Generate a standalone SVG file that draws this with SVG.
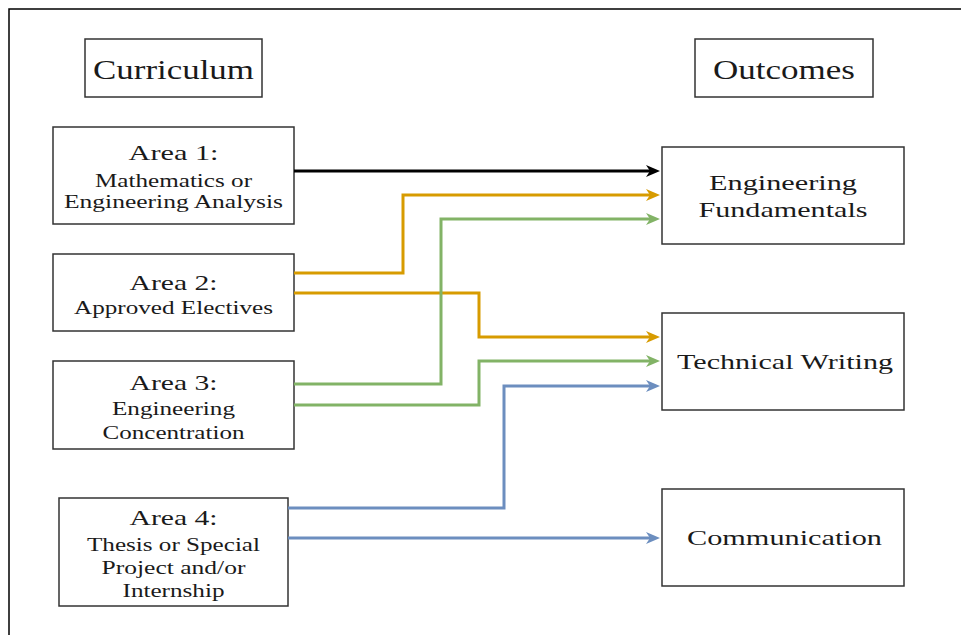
<svg xmlns="http://www.w3.org/2000/svg" width="961" height="635" viewBox="0 0 961 635">
<style>
  .box { fill: #ffffff; stroke: #333333; stroke-width: 1.5; }
  .t { font-family: "Liberation Serif", "Times New Roman", serif; fill: #1a1a1a; text-anchor: middle; }
  .title { font-size: 28px; }
  .head { font-size: 22px; }
  .sub { font-size: 18px; }
  .out { font-size: 22px; }
  .c { fill: none; stroke-width: 3; stroke-linejoin: miter; }
</style>
<defs>
  <marker id="aBlack" markerUnits="userSpaceOnUse" markerWidth="16" markerHeight="14" refX="8" refY="6" orient="auto"><path d="M0,0 L14,6 L0,12 L4,6 Z" fill="#000000"/></marker>
  <marker id="aOrange" markerUnits="userSpaceOnUse" markerWidth="16" markerHeight="14" refX="8" refY="6" orient="auto"><path d="M0,0 L14,6 L0,12 L4,6 Z" fill="#d79b00"/></marker>
  <marker id="aGreen" markerUnits="userSpaceOnUse" markerWidth="16" markerHeight="14" refX="8" refY="6" orient="auto"><path d="M0,0 L14,6 L0,12 L4,6 Z" fill="#82b366"/></marker>
  <marker id="aBlue" markerUnits="userSpaceOnUse" markerWidth="16" markerHeight="14" refX="8" refY="6" orient="auto"><path d="M0,0 L14,6 L0,12 L4,6 Z" fill="#6c8ebf"/></marker>
</defs>
<rect x="0" y="0" width="961" height="635" fill="#ffffff"/>
<path d="M9,635 V9 H961" fill="none" stroke="#000000" stroke-width="1.5"/>

<g id="curriculum">
  <rect class="box" x="85" y="39" width="177" height="58"/>
  <text class="t title" x="173.5" y="79" textLength="161" lengthAdjust="spacingAndGlyphs">Curriculum</text>
</g>
<g id="outcomes">
  <rect class="box" x="695" y="39" width="178" height="58"/>
  <text class="t title" x="784" y="79" textLength="142" lengthAdjust="spacingAndGlyphs">Outcomes</text>
</g>

<g id="area1">
  <rect class="box" x="53" y="127" width="241" height="97"/>
  <text class="t head" x="173.5" y="160" textLength="90" lengthAdjust="spacingAndGlyphs">Area 1:</text>
  <text class="t sub" x="173.5" y="187" textLength="157" lengthAdjust="spacingAndGlyphs">Mathematics or</text>
  <text class="t sub" x="173.5" y="208" textLength="219" lengthAdjust="spacingAndGlyphs">Engineering Analysis</text>
</g>
<g id="area2">
  <rect class="box" x="53" y="254" width="241" height="77"/>
  <text class="t head" x="173.5" y="290" textLength="88" lengthAdjust="spacingAndGlyphs">Area 2:</text>
  <text class="t sub" x="173.5" y="314" textLength="199" lengthAdjust="spacingAndGlyphs">Approved Electives</text>
</g>
<g id="area3">
  <rect class="box" x="53" y="361" width="241" height="88"/>
  <text class="t head" x="173.5" y="390" textLength="88" lengthAdjust="spacingAndGlyphs">Area 3:</text>
  <text class="t sub" x="173.5" y="415" textLength="123" lengthAdjust="spacingAndGlyphs">Engineering</text>
  <text class="t sub" x="173.5" y="439" textLength="142" lengthAdjust="spacingAndGlyphs">Concentration</text>
</g>
<g id="area4">
  <rect class="box" x="59" y="498" width="229" height="108"/>
  <text class="t head" x="173.5" y="525" textLength="88" lengthAdjust="spacingAndGlyphs">Area 4:</text>
  <text class="t sub" x="173.5" y="551" textLength="173" lengthAdjust="spacingAndGlyphs">Thesis or Special</text>
  <text class="t sub" x="173.5" y="574" textLength="144" lengthAdjust="spacingAndGlyphs">Project and/or</text>
  <text class="t sub" x="173.5" y="597" textLength="102" lengthAdjust="spacingAndGlyphs">Internship</text>
</g>

<g id="fundamentals">
  <rect class="box" x="662" y="147" width="242" height="97"/>
  <text class="t out" x="783" y="190" textLength="148" lengthAdjust="spacingAndGlyphs">Engineering</text>
  <text class="t out" x="783" y="217" textLength="169" lengthAdjust="spacingAndGlyphs">Fundamentals</text>
</g>
<g id="writing">
  <rect class="box" x="662" y="313" width="242" height="97"/>
  <text class="t out" x="785" y="369" textLength="216" lengthAdjust="spacingAndGlyphs">Technical Writing</text>
</g>
<g id="communication">
  <rect class="box" x="662" y="489" width="242" height="97"/>
  <text class="t out" x="784.5" y="545" textLength="195" lengthAdjust="spacingAndGlyphs">Communication</text>
</g>

<g id="connectors">
  <path class="c" stroke="#000000" d="M294,171 H654" marker-end="url(#aBlack)"/>
  <path class="c" stroke="#d79b00" d="M294,273 H403 V195 H654" marker-end="url(#aOrange)"/>
  <path class="c" stroke="#d79b00" d="M294,293 H479 V337 H654" marker-end="url(#aOrange)"/>
  <path class="c" stroke="#82b366" d="M294,384 H441 V219 H654" marker-end="url(#aGreen)"/>
  <path class="c" stroke="#82b366" d="M294,405 H479 V361 H654" marker-end="url(#aGreen)"/>
  <path class="c" stroke="#6c8ebf" d="M288,508 H504 V386 H654" marker-end="url(#aBlue)"/>
  <path class="c" stroke="#6c8ebf" d="M288,538 H654" marker-end="url(#aBlue)"/>
</g>
</svg>
